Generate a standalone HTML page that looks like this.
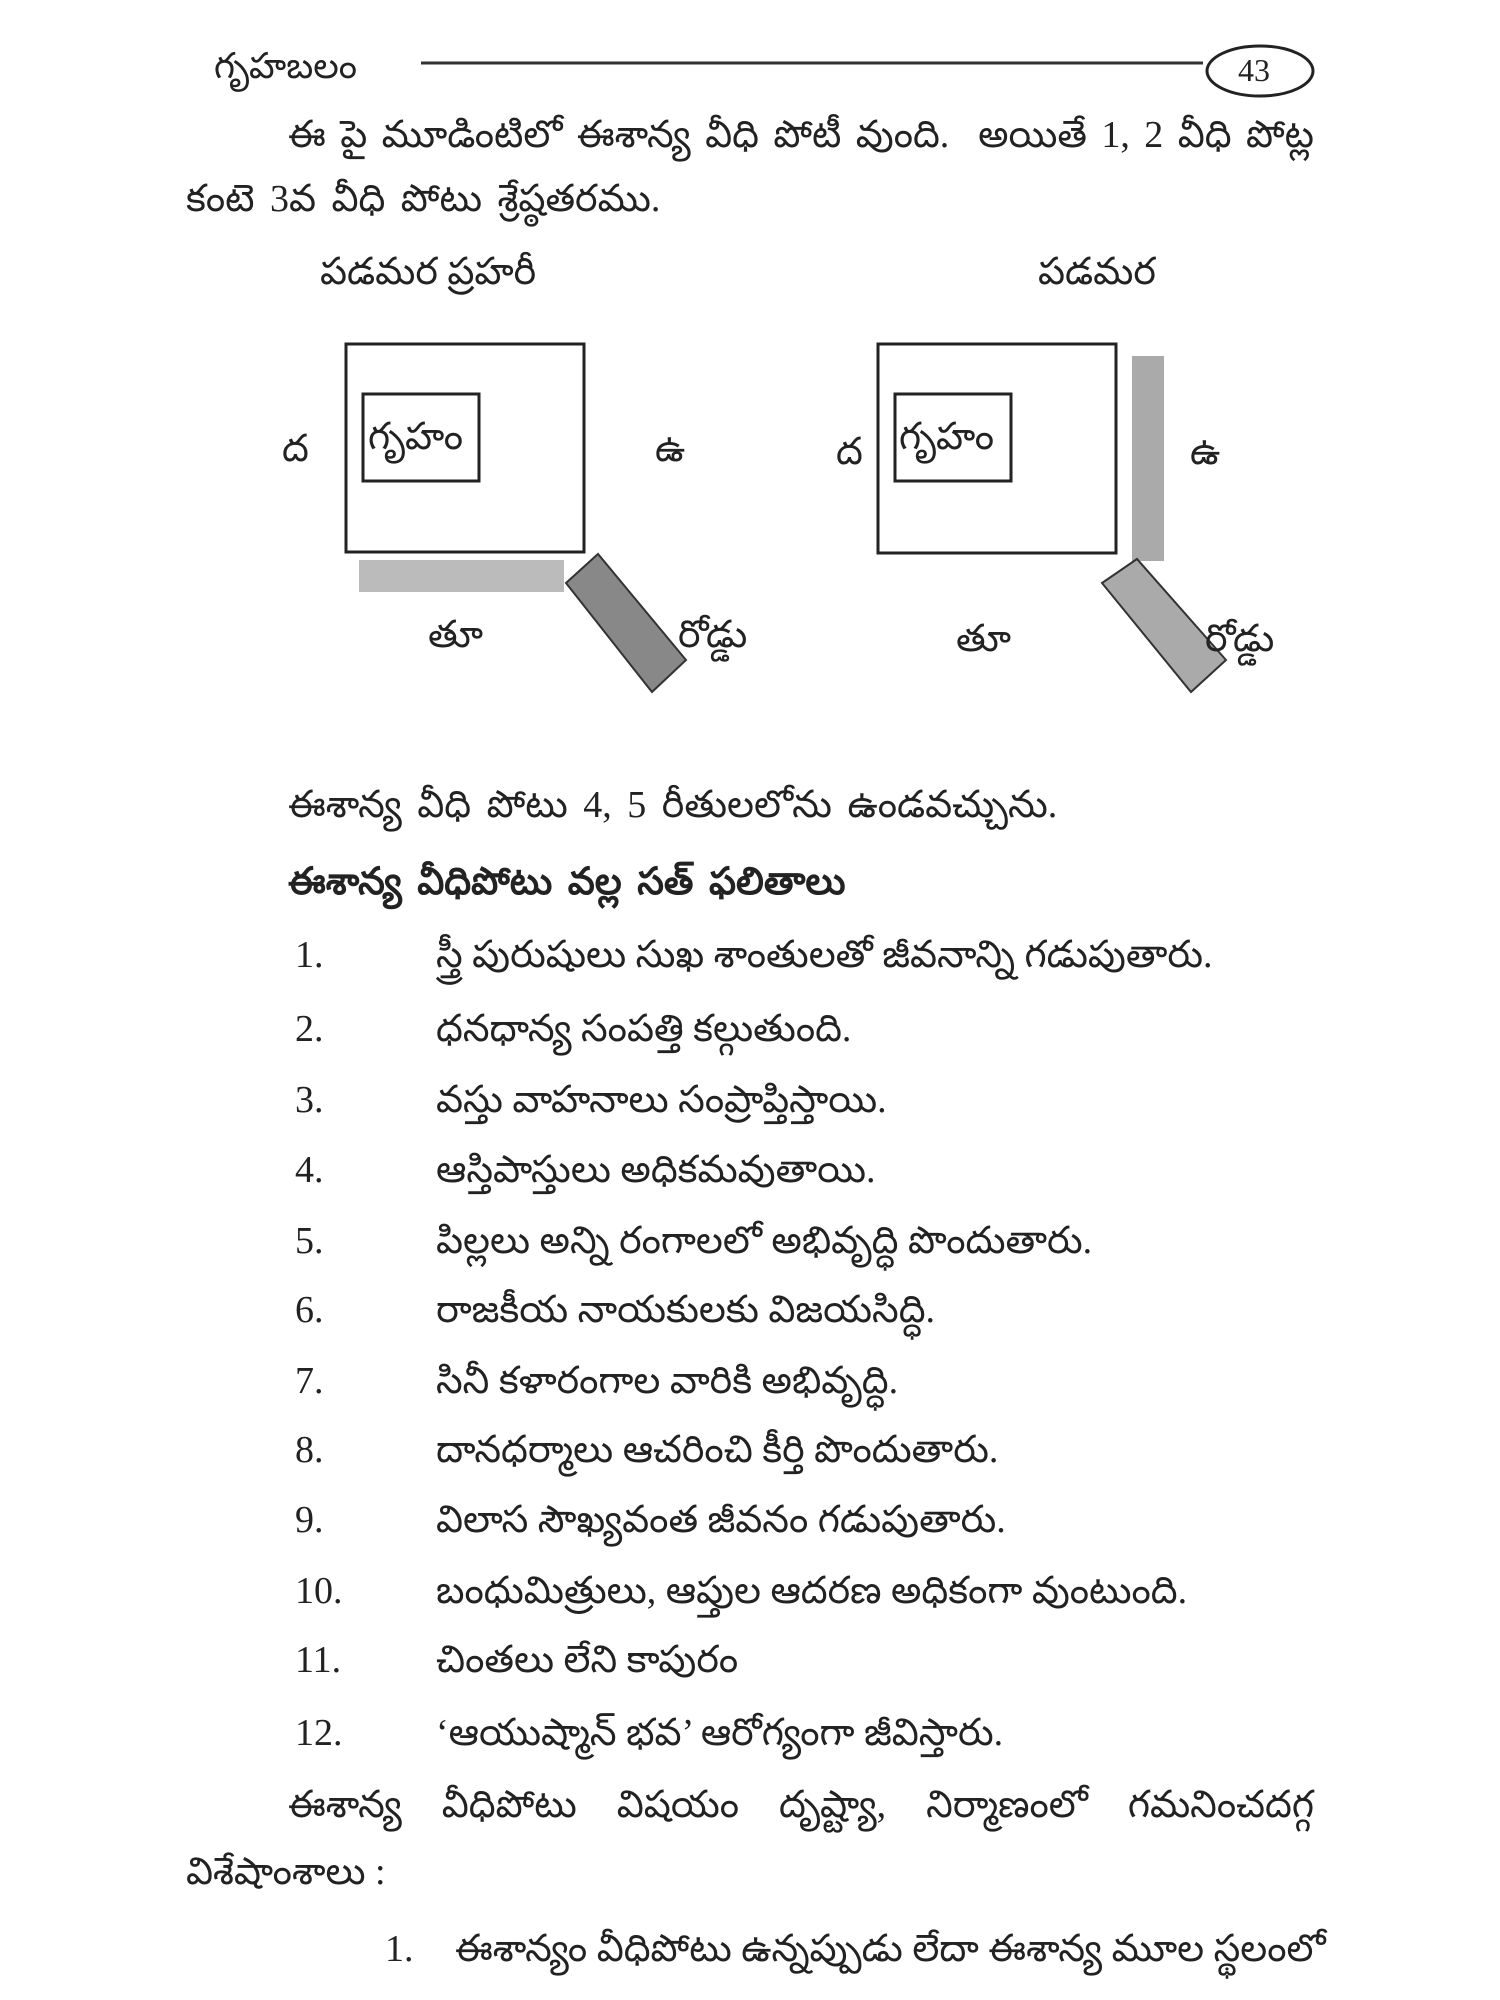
<!DOCTYPE html>
<html><head><meta charset="utf-8">
<style>
html,body{margin:0;padding:0;background:#fff;}
body{width:1500px;height:2000px;position:relative;overflow:hidden;font-family:"Liberation Serif","Noto Sans CJK SC",serif;color:#222;}
.t{position:absolute;white-space:nowrap;font-size:38px;line-height:40px;}
.j{white-space:normal;text-align:justify;text-align-last:justify;}
.b{font-weight:bold;}
svg{position:absolute;left:0;top:0;}
</style></head><body>
<svg width="1500" height="2000">
  <line x1="421" y1="63" x2="1203" y2="63" stroke="#333" stroke-width="3"/>
  <ellipse cx="1260" cy="71" rx="53" ry="25" fill="none" stroke="#222" stroke-width="3"/>
  <rect x="346" y="344" width="238" height="208" fill="none" stroke="#222" stroke-width="3"/>
  <rect x="363" y="394" width="116" height="87" fill="none" stroke="#222" stroke-width="3"/>
  <rect x="359" y="560" width="205" height="32" fill="#bbb"/>
  <polygon points="566,583 598,554 686,660 652,692" fill="#888" stroke="#333" stroke-width="2"/>
  <rect x="878" y="344" width="238" height="209" fill="none" stroke="#222" stroke-width="3"/>
  <rect x="895" y="394" width="116" height="87" fill="none" stroke="#222" stroke-width="3"/>
  <rect x="1132" y="356" width="32" height="205" fill="#aaa"/>
  <polygon points="1102,583 1137,559 1226,660 1191,692" fill="#aaa" stroke="#333" stroke-width="2"/>
</svg>
<div class="t" style="left:214px;top:46px;font-size:36px;">గృహబలం</div>
<div class="t" style="left:1238px;top:50px;font-size:32px;">43</div>
<div class="t j" style="left:288px;top:115px;width:1026px;">ఈ పై మూడింటిలో ఈశాన్య వీధి పోటీ వుంది.&nbsp; అయితే 1, 2 వీధి పోట్ల</div>
<div class="t" style="left:186px;top:179px;word-spacing:6px;">కంటె 3వ వీధి పోటు శ్రేష్ఠతరము.</div>
<div class="t" style="left:320px;top:252px;">పడమర ప్రహరీ</div>
<div class="t" style="left:1038px;top:252px;">పడమర</div>
<div class="t" style="left:282px;top:429px;">ద</div>
<div class="t" style="left:368px;top:417px;">గృహం</div>
<div class="t" style="left:655px;top:429px;">ఉ</div>
<div class="t" style="left:428px;top:615px;">తూ</div>
<div class="t" style="left:678px;top:615px;">రోడ్డు</div>
<div class="t" style="left:836px;top:432px;">ద</div>
<div class="t" style="left:899px;top:417px;">గృహం</div>
<div class="t" style="left:1190px;top:432px;">ఉ</div>
<div class="t" style="left:956px;top:619px;">తూ</div>
<div class="t" style="left:1205px;top:619px;">రోడ్డు</div>
<div class="t" style="left:288px;top:785px;word-spacing:6px;">ఈశాన్య వీధి పోటు 4, 5 రీతులలోను ఉండవచ్చును.</div>
<div class="t b" style="left:288px;top:862px;word-spacing:6px;">ఈశాన్య వీధిపోటు వల్ల సత్ ఫలితాలు</div>
<div class="t" style="left:295px;top:935px;">1.</div><div class="t" style="left:436px;top:935px;">స్త్రీ పురుషులు సుఖ శాంతులతో జీవనాన్ని గడుపుతారు.</div>
<div class="t" style="left:295px;top:1009px;">2.</div><div class="t" style="left:436px;top:1009px;">ధనధాన్య సంపత్తి కల్గుతుంది.</div>
<div class="t" style="left:295px;top:1080px;">3.</div><div class="t" style="left:436px;top:1080px;">వస్తు వాహనాలు సంప్రాప్తిస్తాయి.</div>
<div class="t" style="left:295px;top:1150px;">4.</div><div class="t" style="left:436px;top:1150px;">ఆస్తిపాస్తులు అధికమవుతాయి.</div>
<div class="t" style="left:295px;top:1221px;">5.</div><div class="t" style="left:436px;top:1221px;">పిల్లలు అన్ని రంగాలలో అభివృద్ధి పొందుతారు.</div>
<div class="t" style="left:295px;top:1290px;">6.</div><div class="t" style="left:436px;top:1290px;">రాజకీయ నాయకులకు విజయసిద్ధి.</div>
<div class="t" style="left:295px;top:1361px;">7.</div><div class="t" style="left:436px;top:1361px;">సినీ కళారంగాల వారికి అభివృద్ధి.</div>
<div class="t" style="left:295px;top:1430px;">8.</div><div class="t" style="left:436px;top:1430px;">దానధర్మాలు ఆచరించి కీర్తి పొందుతారు.</div>
<div class="t" style="left:295px;top:1500px;">9.</div><div class="t" style="left:436px;top:1500px;">విలాస సౌఖ్యవంత జీవనం గడుపుతారు.</div>
<div class="t" style="left:295px;top:1571px;">10.</div><div class="t" style="left:436px;top:1571px;">బంధుమిత్రులు, ఆప్తుల ఆదరణ అధికంగా వుంటుంది.</div>
<div class="t" style="left:295px;top:1640px;">11.</div><div class="t" style="left:436px;top:1640px;">చింతలు లేని కాపురం</div>
<div class="t" style="left:295px;top:1713px;">12.</div><div class="t" style="left:436px;top:1713px;">‘ఆయుష్మాన్ భవ’ ఆరోగ్యంగా జీవిస్తారు.</div>
<div class="t j" style="left:288px;top:1785px;width:1026px;">ఈశాన్య వీధిపోటు విషయం దృష్ట్యా, నిర్మాణంలో గమనించదగ్గ</div>
<div class="t" style="left:186px;top:1852px;">విశేషాంశాలు :</div>
<div class="t" style="left:385px;top:1929px;">1.</div><div class="t" style="left:455px;top:1929px;">ఈశాన్యం వీధిపోటు ఉన్నప్పుడు లేదా ఈశాన్య మూల స్థలంలో</div>
</body></html>
